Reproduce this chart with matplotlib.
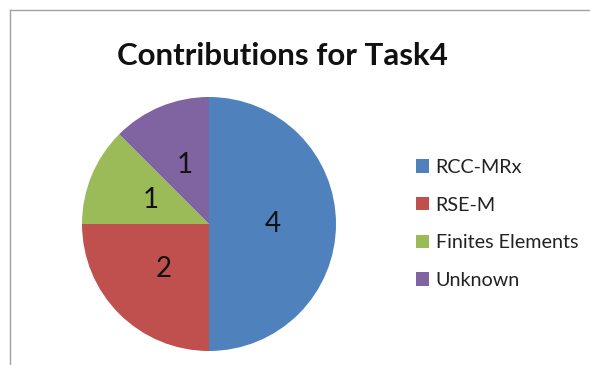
import matplotlib
matplotlib.use("Agg")
import matplotlib.pyplot as plt
from matplotlib.lines import Line2D
from matplotlib.patches import Patch

plt.rcParams['font.family'] = ['Lato', 'DejaVu Sans']

labels = ["RCC-MRx", "RSE-M", "Finites Elements", "Unknown"]
counts = [4, 2, 1, 1]
colors = ["#4F81BD", "#C0504D", "#9BBB59", "#8064A2"]

W, H = 590, 365
fig = plt.figure(figsize=(W / 100, H / 100), dpi=100)
fig.patch.set_facecolor("white")

# pie placed by pixel: centre (209, 224), radius 127
cx, cy, r = 209, 224, 127
ax = fig.add_axes([(cx - r) / W, (H - cy - r) / H, 2 * r / W, 2 * r / H])
wedges, texts = ax.pie(counts, colors=colors, startangle=90, counterclock=False,
                       labels=[str(c) for c in counts], labeldistance=0.5,
                       wedgeprops=dict(linewidth=0))
for t in texts:
    t.set_fontsize(20)
    t.set_color("#111111")
    t.set_ha("center")
    t.set_va("center")
ax.set_xlim(-1, 1)
ax.set_ylim(-1, 1)
ax.set_aspect("equal")
ax.axis("off")

fig.text(282 / W, 1 - 56 / H, "Contributions for Task4", ha="center", va="center",
         fontsize=22.5, fontweight="bold", color="#111111")

handles = [Patch(facecolor=c, edgecolor="none") for c in colors]
fig.legend(handles, labels, loc="upper left", bbox_to_anchor=(406 / W, 1 - 149 / H),
           frameon=False, fontsize=14.2, handlelength=0.65, handleheight=0.65,
           handletextpad=0.35, labelspacing=1.05, borderpad=0, labelcolor="#222222")

# chart area border, only top and left edges visible
fig.add_artist(Line2D([10 / W, 1], [1 - 10 / H, 1 - 10 / H], color="#a0a0a0", lw=1))
fig.add_artist(Line2D([10 / W, 10 / W], [0, 1 - 10 / H], color="#a0a0a0", lw=1))

fig.savefig("out.png", dpi=100)
